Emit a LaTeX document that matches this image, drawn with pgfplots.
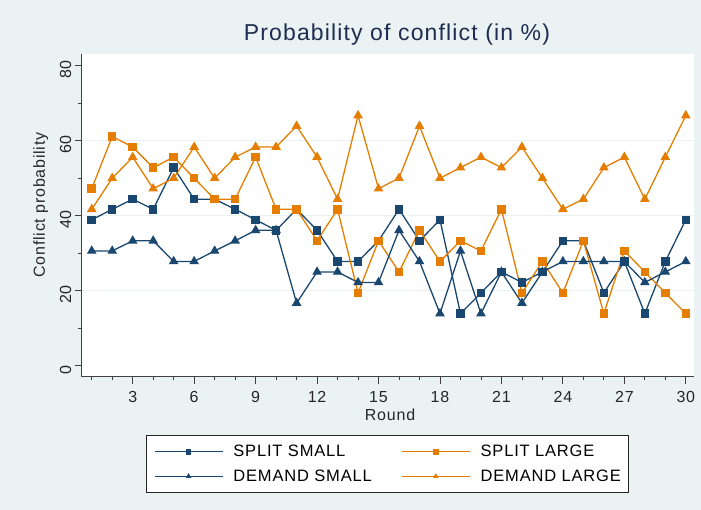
\documentclass[border=0pt]{standalone}
\usepackage{pgfplots}
\pgfplotsset{compat=1.18}
\usepackage{fontspec}
\setmainfont{Liberation Sans}[LetterSpace=5]
\definecolor{bgc}{RGB}{234,242,243}
\definecolor{navyc}{RGB}{26,71,111}
\definecolor{orangec}{RGB}{229,126,0}
\definecolor{titlec}{RGB}{30,45,80}
\begin{document}
\begin{tikzpicture}
\path[use as bounding box] (0,0) rectangle (701bp,510bp);
\fill[bgc] (0,0) rectangle (701bp,510bp);
\begin{axis}[
  at={(81.7bp,133.3bp)}, anchor=south west,
  scale only axis, width=612.3bp, height=322.7bp,
  xmin=0.51, xmax=30.4, ymin=-2.93, ymax=83.1,
  axis background/.style={fill=white},
  axis x line*=bottom, axis y line*=left,
  axis line style={black!75, line width=0.8bp, -},
  xtick={3,6,...,30}, minor xtick={1,...,30},
  ytick={0,20,...,80}, minor ytick={10,30,50,70},
  extra y ticks={20,40,60}, extra y tick labels={},
  extra y tick style={grid=major, major tick length=0pt},
  grid style={draw=bgc, line width=1.5bp},
  tick align=outside, major tick length=7bp, minor tick length=3.5bp,
  tick style={black!75, line width=0.8bp},
  /pgf/number format/assume math mode=true,
  every tick label/.append style={font=\fontsize{16bp}{19bp}\selectfont, text=black!85},
  xticklabel style={yshift=-4bp},
  yticklabel style={rotate=90, anchor=south, xshift=-4bp},
  title={Probability of conflict (in \%)},
  title style={at={(axis description cs:0.5148,1.0226)}, anchor=base, font=\fontsize{23bp}{27bp}\selectfont, text=titlec},
  xlabel={Round},
  xlabel style={at={(axis description cs:0.5035,-0.119)}, anchor=center, font=\fontsize{16bp}{19bp}\selectfont, text=black!85},
  ylabel={Conflict probability},
  ylabel style={at={(axis description cs:-0.067,0.532)}, anchor=center, font=\fontsize{16bp}{19bp}\selectfont, text=black!85},
  legend columns=2, legend cell align=left,
  legend image code/.code={\draw[mark repeat=2,mark phase=2,mark size=2.2bp,line width=1bp] plot coordinates {(0bp,0bp)(34bp,0bp)(68bp,0bp)};},
  legend style={at={(axis description cs:0.4994,-0.1807)}, anchor=north,
    draw=black!85, fill=white, line width=0.8bp, inner xsep=7.5bp, inner ysep=7.5bp,
    font=\fontsize{16.5bp}{19bp}\selectfont,
    nodes={inner sep=0pt, text height=14bp, text depth=4bp},
    row sep=6.4bp,
    /tikz/every odd column/.style={column sep=10.3bp},
    /tikz/every even column/.style={column sep=29.5bp}},
]
\addplot[navyc, line width=1.3bp, mark=square*, mark size=3.6bp] coordinates {
(1,38.9)(2,41.7)(3,44.4)(4,41.7)(5,52.8)(6,44.4)(7,44.4)(8,41.7)(9,38.9)(10,36.1)
(11,41.7)(12,36.1)(13,27.8)(14,27.8)(15,33.3)(16,41.7)(17,33.3)(18,38.9)(19,13.9)(20,19.4)
(21,25)(22,22.2)(23,25)(24,33.3)(25,33.3)(26,19.4)(27,27.8)(28,13.9)(29,27.8)(30,38.9)};
\addlegendentry{SPLIT SMALL}
\addplot[orangec, line width=1.3bp, mark=square*, mark size=3.6bp] coordinates {
(1,47.2)(2,61.1)(3,58.3)(4,52.8)(5,55.6)(6,50)(7,44.4)(8,44.4)(9,55.6)(10,41.7)
(11,41.7)(12,33.3)(13,41.7)(14,19.4)(15,33.3)(16,25)(17,36.1)(18,27.8)(19,33.3)(20,30.6)
(21,41.7)(22,19.4)(23,27.8)(24,19.4)(25,33.3)(26,13.9)(27,30.6)(28,25)(29,19.4)(30,13.9)};
\addlegendentry{SPLIT LARGE}
\addplot[navyc, line width=1.3bp, mark=triangle*, mark size=4.3bp] coordinates {
(1,30.6)(2,30.6)(3,33.3)(4,33.3)(5,27.8)(6,27.8)(7,30.6)(8,33.3)(9,36.1)(10,36.1)
(11,16.7)(12,25)(13,25)(14,22.2)(15,22.2)(16,36.1)(17,27.8)(18,13.9)(19,30.6)(20,13.9)
(21,25)(22,16.7)(23,25)(24,27.8)(25,27.8)(26,27.8)(27,27.8)(28,22.2)(29,25)(30,27.8)};
\addlegendentry{DEMAND SMALL}
\addplot[orangec, line width=1.3bp, mark=triangle*, mark size=4.3bp] coordinates {
(1,41.7)(2,50)(3,55.6)(4,47.2)(5,50)(6,58.3)(7,50)(8,55.6)(9,58.3)(10,58.3)
(11,63.9)(12,55.6)(13,44.4)(14,66.7)(15,47.2)(16,50)(17,63.9)(18,50)(19,52.8)(20,55.6)
(21,52.8)(22,58.3)(23,50)(24,41.7)(25,44.4)(26,52.8)(27,55.6)(28,44.4)(29,55.6)(30,66.7)};
\addlegendentry{DEMAND LARGE}
\end{axis}
\end{tikzpicture}
\end{document}
